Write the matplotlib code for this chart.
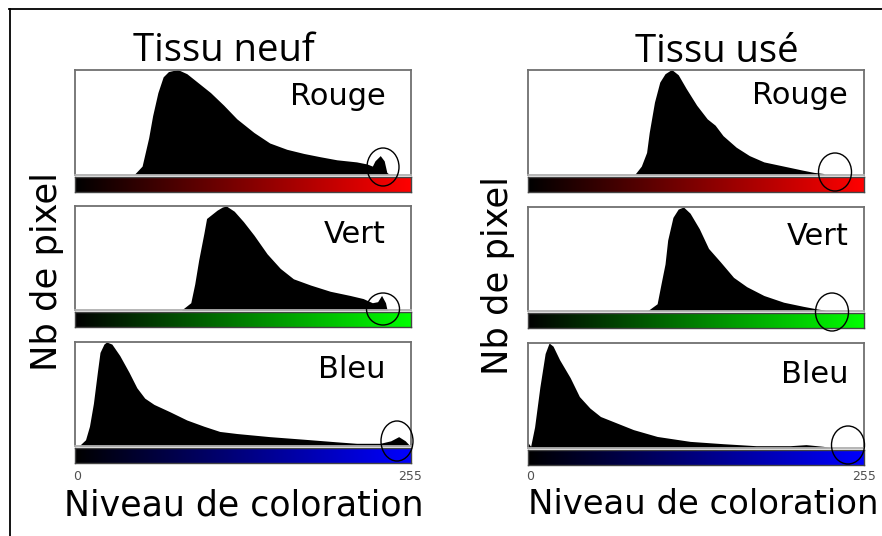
import numpy as np
import matplotlib
matplotlib.use('Agg')
import matplotlib.pyplot as plt
from matplotlib.patches import Ellipse
from matplotlib.lines import Line2D

W = 882
H = 536

titles = ['Tissu neuf', 'Tissu usé']
channels = ['Rouge', 'Vert', 'Bleu']
ylabel = 'Nb de pixel'
xlabel = 'Niveau de coloration'
tick_labels = ['0', '255']

# histograms: niveau (0-255) -> hauteur (% du max)
neuf_rouge_x = [45, 51, 56, 59, 63, 67, 71, 78, 85, 95, 103, 113, 123, 136, 148, 161, 174, 186, 199, 214, 222, 226, 228, 232, 235, 237, 239]
neuf_rouge_y = [0, 8, 35, 56, 78, 93, 98, 100, 96, 86, 78, 66, 53, 40, 30, 24, 20, 17, 14, 12, 10, 8, 13, 18, 13, 2, 0]

neuf_vert_x = [81, 88, 91, 94, 98, 100, 104, 108, 112, 115, 121, 128, 136, 146, 156, 166, 179, 194, 209, 219, 226, 230, 233, 236, 237, 238]
neuf_vert_y = [0, 7, 25, 48, 74, 88, 92, 96, 99, 100, 95, 85, 72, 54, 40, 30, 24, 18, 14, 11, 7, 8, 14, 7, 1, 0]

neuf_bleu_x = [0, 3, 8, 11, 14, 17, 19, 22, 24, 28, 34, 41, 47, 53, 60, 72, 85, 98, 110, 123, 148, 174, 199, 214, 232, 240, 246, 251, 254, 255]
neuf_bleu_y = [0, 0, 6, 19, 41, 71, 90, 98, 100, 98, 87, 71, 56, 46, 40, 33, 25, 19, 14, 12, 9, 6.5, 4, 2.6, 2.6, 5, 9, 5, 1, 0]

use_rouge_x = [81, 86, 90, 92, 96, 100, 104, 109, 114, 120, 128, 136, 142, 148, 158, 168, 179, 194, 209, 217, 224, 225]
use_rouge_y = [0, 8, 21, 40, 69, 88, 96, 100, 95, 82, 66, 53, 47, 37, 26, 18, 12, 8, 4, 2, 1, 0]

use_vert_x = [91, 98, 101, 104, 106, 110, 114, 118, 123, 130, 137, 146, 156, 166, 179, 194, 209, 219, 224, 226]
use_vert_y = [0, 6.5, 26, 45, 68, 90, 98, 100, 94, 79, 60, 47, 32, 23, 14.5, 8, 4, 1.6, 0.6, 0]

use_bleu_x = [0, 2, 5, 9, 13, 16, 19, 24, 32, 39, 47, 55, 67, 80, 98, 123, 148, 173, 199, 211, 224, 229, 231]
use_bleu_y = [5, 1.6, 20, 58, 90, 100, 97, 84, 67, 49, 38, 30, 24, 17.5, 11, 6.3, 4.1, 2.2, 2.2, 3.2, 1.6, 0.6, 0]

hists = [
    [(neuf_rouge_x, neuf_rouge_y), (neuf_vert_x, neuf_vert_y), (neuf_bleu_x, neuf_bleu_y)],
    [(use_rouge_x, use_rouge_y), (use_vert_x, use_vert_y), (use_bleu_x, use_bleu_y)],
]
bar_colors = [(1, 0, 0), (0, 1, 0), (0, 0, 1)]

# layout, in pixels
col_x = [(75, 410.5), (528, 864)]
hist_y = [[(69.5, 174.5), (206, 310), (342, 446)],
          [(69.5, 174.5), (207, 310.5), (343, 448)]]
grad_y = [[(177, 192), (312, 327), (448, 463)],
          [(177.5, 192), (313, 328), (449.5, 465)]]
label_x = [0.925, 0.953]
label_y = [[0.66, 0.64, 0.65], [0.67, 0.63, 0.62]]
circles = [[(383, 167, 32, 38), (383, 309, 33, 32), (397, 441, 32, 40)],
           [(835, 172, 33, 38), (832, 312, 33, 38), (848, 445, 33, 38)]]
title_xy = [(224, 61), (717, 62)]
xlabel_xy = [(244, 515), (703, 514)]
xlabel_size = [25, 24.4]
ylabel_xy = [(57, 272), (508, 276)]


def px_axes(x0, x1, y0, y1):
    return fig.add_axes([x0 / W, 1 - y1 / H, (x1 - x0) / W, (y1 - y0) / H])


fig = plt.figure(figsize=(W / 100, H / 100), dpi=100)
fig.patch.set_facecolor('white')

# outer frame (top and left edges)
fig.add_artist(Line2D([9 / W, 1], [1 - 9 / H, 1 - 9 / H], color='black', lw=1.3))
fig.add_artist(Line2D([10 / W, 10 / W], [1 - 9 / H, 0], color='black', lw=1.3))

ramp = np.linspace(0, 1, 256)

for c in range(2):
    x0, x1 = col_x[c]
    for r in range(3):
        hx, hy = hists[c][r]
        ax = px_axes(x0, x1, *hist_y[c][r])
        ax.fill_between(hx, hy, 0, color='black', lw=0)
        ax.set_xlim(0, 255)
        ax.set_ylim(0, 100)
        ax.set_xticks([])
        ax.set_yticks([])
        for s in ax.spines.values():
            s.set_color('#707070')
            s.set_linewidth(1.3)
        ax.spines['bottom'].set_color('#b0b0b0')
        ax.text(label_x[c], label_y[c][r], channels[r], transform=ax.transAxes,
                ha='right', va='baseline', fontsize=22, family='DejaVu Sans')

        gax = px_axes(x0, x1, *grad_y[c][r])
        img = ramp[None, :, None] * np.array(bar_colors[r])[None, None, :]
        gax.imshow(img, aspect='auto', extent=[0, 255, 0, 1], interpolation='bilinear')
        gax.set_xticks([])
        gax.set_yticks([])
        for s in gax.spines.values():
            s.set_color('#444444')
            s.set_linewidth(1)

        cx, cy, cw, ch = circles[c][r]
        fig.add_artist(Ellipse((cx / W, 1 - cy / H), cw / W, ch / H,
                               transform=fig.transFigure, fill=False,
                               edgecolor='black', lw=1))

    # tick labels under the blue bar
    fig.text(x0 / W + 0.002, 1 - 477 / H, tick_labels[0], ha='center', va='center',
             fontsize=9, color='#505050')
    fig.text(x1 / W, 1 - 477 / H, tick_labels[1], ha='center', va='center',
             fontsize=9, color='#505050')

    tx, ty = title_xy[c]
    fig.text(tx / W, 1 - ty / H, titles[c], ha='center', va='baseline',
             fontsize=27.5, family='Open Sans')
    lx, ly = xlabel_xy[c]
    fig.text(lx / W, 1 - ly / H, xlabel, ha='center', va='baseline', fontsize=xlabel_size[c])
    yx, yy = ylabel_xy[c]
    fig.text(yx / W, 1 - yy / H, ylabel, ha='center', va='baseline', fontsize=25.4,
             rotation=90, rotation_mode='anchor')

fig.savefig('out.png', dpi=100)
